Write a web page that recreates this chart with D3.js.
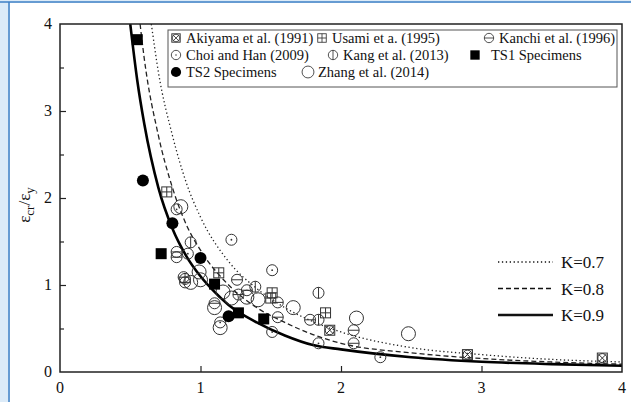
<!DOCTYPE html>
<html>
<head>
<meta charset="utf-8">
<script src="https://cdn.jsdelivr.net/npm/d3@7"></script>
<style>
  body { margin: 0; background: #fff; }
  text { font-family: "Liberation Serif", "Times New Roman", serif; fill: #111; }
</style>
</head>
<body>
<svg id="chart" width="631" height="402"></svg>
<script>
// ---- data ----
var akiyama = [[1.92,0.48],[2.90,0.20],[3.86,0.16]];
var usami   = [[0.76,2.07],[1.13,1.14],[1.51,0.91],[1.50,0.85],[1.89,0.68]];
var kanchi  = [[0.83,1.38],[0.83,1.32],[0.88,1.09],[0.89,1.03],[1.26,1.06],[1.33,0.94],
               [1.27,0.89],[1.10,0.79],[1.55,0.80],[1.55,0.63],[1.78,0.60],[2.09,0.48],[2.09,0.33]];
var choi    = [[0.83,1.87],[0.91,1.36],[1.22,1.52],[1.51,1.17],[1.14,0.57],[1.51,0.46],[1.84,0.33],[2.28,0.17]];
var kang    = [[0.93,1.49],[1.39,0.98],[1.84,0.91],[1.84,0.60],[0.89,1.07]];
var zhang   = [[0.86,1.90],[0.99,1.15],[1.00,1.06],[0.93,1.03],[1.16,0.92],[1.22,0.85],[1.33,0.86],
               [1.41,0.83],[1.66,0.74],[1.10,0.74],[1.14,0.51],[2.11,0.62],[2.48,0.44]];
var ts1     = [[0.55,3.82],[0.72,1.36],[1.10,1.01],[1.27,0.68],[1.45,0.61]];
var ts2     = [[0.59,2.20],[0.80,1.71],[1.00,1.31],[1.20,0.64]];

var curveK07 = [[0.65,4.0],[0.7,3.45],[0.8,2.72],[0.9,2.17],[1.0,1.78],[1.2,1.27],[1.4,0.96],[1.6,0.74],
                [1.8,0.58],[2.0,0.46],[2.5,0.28],[3.0,0.20],[3.5,0.145],[4.0,0.115]];
var curveK08 = [[0.57,4.0],[0.6,3.6],[0.7,2.72],[0.8,2.12],[0.9,1.69],[1.0,1.40],[1.2,1.0],[1.4,0.74],
                [1.6,0.57],[1.8,0.43],[2.0,0.33],[2.5,0.22],[3.0,0.155],[3.5,0.115],[4.0,0.09]];
var curveK09 = [[0.5,4.0],[0.55,3.35],[0.6,2.85],[0.7,2.12],[0.8,1.65],[0.9,1.33],[1.0,1.1],[1.1,0.92],
                [1.2,0.77],[1.4,0.57],[1.6,0.42],[1.8,0.31],[2.0,0.26],[2.5,0.17],[3.0,0.118],[3.5,0.09],[4.0,0.072]];

var xTicks = [0,1,2,3,4];
var yTicks = [0,1,2,3,4];
var yMinor = [0.5,1.5,2.5,3.5];
var curveLabels = ["K=0.7","K=0.8","K=0.9"];

// ---- frame ----
var svg = d3.select("#chart");
svg.append("rect").attr("width",631).attr("height",402).attr("fill","#dcebf8");
svg.append("rect").attr("x",10).attr("y",3).attr("width",621).attr("height",399).attr("fill","#fff");
svg.append("line").attr("x1",0).attr("x2",631).attr("y1",2).attr("y2",2).attr("stroke","#3f80c6").attr("stroke-width",1.5);
svg.append("line").attr("x1",9).attr("x2",9).attr("y1",2).attr("y2",402).attr("stroke","#3f80c6").attr("stroke-width",1.5);

var x = d3.scaleLinear().domain([0,4]).range([60,622]);
var y = d3.scaleLinear().domain([0,4]).range([372,24]);

var g = svg.append("g");

// curves
var line = d3.line().x(function(d){return x(d[0]);}).y(function(d){return y(d[1]);}).curve(d3.curveMonotoneX);
var clip = svg.append("clipPath").attr("id","pc").append("rect")
  .attr("x",60).attr("y",24).attr("width",562).attr("height",348);
var cg = g.append("g").attr("clip-path","url(#pc)");
cg.append("path").datum(curveK07).attr("d",line).attr("fill","none").attr("stroke","#222")
  .attr("stroke-width",1.3).attr("stroke-dasharray","1.3,2.6");
cg.append("path").datum(curveK08).attr("d",line).attr("fill","none").attr("stroke","#222")
  .attr("stroke-width",1.3).attr("stroke-dasharray","5,3");
cg.append("path").datum(curveK09).attr("d",line).attr("fill","none").attr("stroke","#000")
  .attr("stroke-width",2.6);

// markers
var ms = "#333";
function circ(sel, r){
  sel.append("circle").attr("r",r).attr("fill","none").attr("stroke",ms).attr("stroke-width",1);
}
function drawSym(sel, type){
  if(type=="akiyama"){
    sel.append("rect").attr("x",-5).attr("y",-5).attr("width",10).attr("height",10).attr("fill","none").attr("stroke",ms);
    circ(sel,4.5);
    sel.append("path").attr("d","M-4,-4L4,4M-4,4L4,-4").attr("stroke",ms);
  } else if(type=="usami"){
    sel.append("rect").attr("x",-5).attr("y",-5).attr("width",10).attr("height",10).attr("fill","none").attr("stroke",ms);
    sel.append("path").attr("d","M-5,0L5,0M0,-5L0,5").attr("stroke",ms);
  } else if(type=="kanchi"){
    circ(sel,5.5);
    sel.append("path").attr("d","M-5.5,0L5.5,0").attr("stroke",ms);
  } else if(type=="choi"){
    circ(sel,5.5);
    sel.append("circle").attr("r",0.9).attr("fill",ms);
  } else if(type=="kang"){
    circ(sel,5.5);
    sel.append("path").attr("d","M0,-5.5L0,5.5").attr("stroke",ms);
  } else if(type=="zhang"){
    circ(sel,7);
  } else if(type=="ts1"){
    sel.append("rect").attr("x",-5.5).attr("y",-5.5).attr("width",11).attr("height",11).attr("fill","#000");
  } else if(type=="ts2"){
    sel.append("circle").attr("r",6).attr("fill","#000");
  }
}
var sets = [["zhang",zhang],["kanchi",kanchi],["kang",kang],["choi",choi],["usami",usami],
            ["akiyama",akiyama],["ts1",ts1],["ts2",ts2]];
sets.forEach(function(s){
  g.selectAll(null).data(s[1]).enter().append("g")
    .attr("transform",function(d){return "translate("+x(d[0])+","+y(d[1])+")";})
    .each(function(){ drawSym(d3.select(this), s[0]); });
});

// axes (inward ticks)
var xa = g.append("g").attr("transform","translate(0,372)")
  .call(d3.axisTop(x).tickValues(xTicks.slice(1,4)).tickSize(6).tickFormat(""));
var ya = g.append("g").attr("transform","translate(60,0)")
  .call(d3.axisRight(y).tickValues(yTicks.slice(1,4)).tickSize(6).tickFormat(""));
var ym = g.append("g").attr("transform","translate(60,0)")
  .call(d3.axisRight(y).tickValues(yMinor).tickSize(4).tickFormat(""));
[xa,ya,ym].forEach(function(a){ a.select(".domain").remove(); a.selectAll("line").attr("stroke","#222").attr("stroke-width",1.2); });
g.append("rect").attr("x",60).attr("y",24).attr("width",562).attr("height",348)
  .attr("fill","none").attr("stroke","#222").attr("stroke-width",1.5);

g.selectAll(".xl").data(xTicks).enter().append("text")
  .attr("x",function(d){return x(d);}).attr("y",393).attr("text-anchor","middle")
  .style("font-size","16px").text(function(d){return d;});
g.selectAll(".yl").data(yTicks).enter().append("text")
  .attr("x",52).attr("y",function(d){return y(d)+5;}).attr("text-anchor","end")
  .style("font-size","16px").text(function(d){return d;});

// y label
var yl = svg.append("text").attr("transform","translate(30,205) rotate(-90)").attr("text-anchor","middle")
  .style("font-size","17px");
yl.append("tspan").text("ε");
yl.append("tspan").text("cr").attr("dy",4).style("font-size","13px");
yl.append("tspan").text("/ε").attr("dy",-4);
yl.append("tspan").text("y").attr("dy",4).style("font-size","13px");

// legend box
svg.append("rect").attr("x",168).attr("y",30).attr("width",449).attr("height",57)
  .attr("fill","#fff").attr("stroke","#555").attr("stroke-width",1);
var legendItems = [
  ["akiyama","Akiyama et al. (1991)",176,38],
  ["usami","Usami et a. (1995)",322,38],
  ["kanchi","Kanchi et al. (1996)",489,38],
  ["choi","Choi and Han (2009)",176,55],
  ["kang","Kang et al. (2013)",333,55],
  ["ts1","TS1 Specimens",475,55],
  ["ts2","TS2 Specimens",176,72],
  ["zhang","Zhang et al. (2014)",308,72]
];
legendItems.forEach(function(it){
  var s = svg.append("g").attr("transform","translate("+it[2]+","+it[3]+") scale(0.85)");
  drawSym(s, it[0]);
  svg.append("text").attr("x",it[2]+ (it[0]=="ts1"?16:10)).attr("y",it[3]+5)
    .style("font-size","14.5px").text(it[1]);
});

// curve legend
var kl = svg.append("g");
var kStyles = [["1.3,2.6",1.3],["5,3",1.3],[null,2.6]];
curveLabels.forEach(function(lb,i){
  var yy = 262 + i*26.5;
  var l = kl.append("line").attr("x1",498).attr("x2",553).attr("y1",yy).attr("y2",yy)
    .attr("stroke","#111").attr("stroke-width",kStyles[i][1]);
  if(kStyles[i][0]) l.attr("stroke-dasharray",kStyles[i][0]);
  kl.append("text").attr("x",561).attr("y",yy+6).style("font-size","17px").text(lb);
});
</script>
</body>
</html>
